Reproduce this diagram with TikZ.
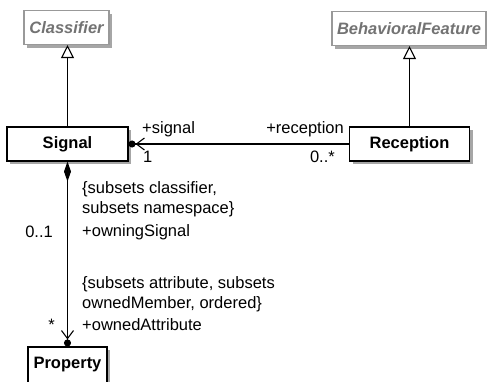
\documentclass[tikz,border=0pt]{standalone}
\usepackage{fontspec}
\setmainfont{Liberation Sans}
\usetikzlibrary{arrows.meta,shadows}

\begin{document}
\begin{tikzpicture}[x=1pt, y=-1pt, font=\fontsize{16.5}{20}\selectfont,
    cls/.style={draw, line width=1.1pt, fill=white, minimum height=34pt,
      font=\fontsize{16.5}{20}\selectfont\bfseries,
      drop shadow={shadow xshift=3pt, shadow yshift=-3pt, fill=black!35, opacity=1}},
    abstr/.style={cls, draw=black!40, text=black!55,
      font=\fontsize{16.5}{20}\selectfont\bfseries\itshape},
    lbl/.style={inner sep=0pt, align=left},
    gen/.style={line width=1.1pt, -{Triangle[open, length=13pt, width=13pt]}},
    assoc/.style={line width=1.1pt, -{Straight Barb[length=8pt, width=12pt]Circle[length=7pt]}},
    comp/.style={line width=1.1pt, {Diamond[length=20pt, width=7pt]}-{Straight Barb[length=8pt, width=12pt]Circle[length=7pt]}}]
    \useasboundingbox (0,0) rectangle (487,381);
    % classes
    \node[abstr, minimum width=85pt] (classifier) at (66.5,27.5) {Classifier};
    \node[abstr, minimum width=154pt] (behavioral) at (409,28.5) {BehavioralFeature};
    \node[cls, minimum width=121pt] (signal) at (67.5,144) {Signal};
    \node[cls, minimum width=120pt] (reception) at (409.5,144) {Reception};
    \node[cls, minimum width=79pt, minimum height=36pt] (property) at (67.5,365) {Property};
    % relations
    \draw[gen] (signal.north) -- (signal.north |- classifier.south);
    \draw[gen] (reception.north) -- (reception.north |- behavioral.south);
    \draw[assoc] (reception.west) -- (signal.east);
    \draw[comp] (signal.south) -- (property.north);
    % ends
    \node[lbl, anchor=west] (signalrole) at (142,129) {+signal};
    \node[lbl, anchor=west] (signalmult) at (143,157) {1};
    \node[lbl, anchor=east] (receptionrole) at (344,129) {+reception};
    \node[lbl, anchor=east] (receptionmult) at (335,157) {0..*};
    \node[lbl, anchor=west] (ownerconstr) at (82,199) {\{subsets classifier,\\subsets namespace\}};
    \node[lbl, anchor=west] (ownerrole) at (82,232) {+owningSignal};
    \node[lbl, anchor=east] (ownermult) at (53,232) {0..1};
    \node[lbl, anchor=west] (attrconstr) at (82,294) {\{subsets attribute, subsets\\ownedMember, ordered\}};
    \node[lbl, anchor=west] (attrrole) at (82,325) {+ownedAttribute};
    \node[lbl, anchor=east] (attrmult) at (55,325) {*};
  \end{tikzpicture}
\end{document}
